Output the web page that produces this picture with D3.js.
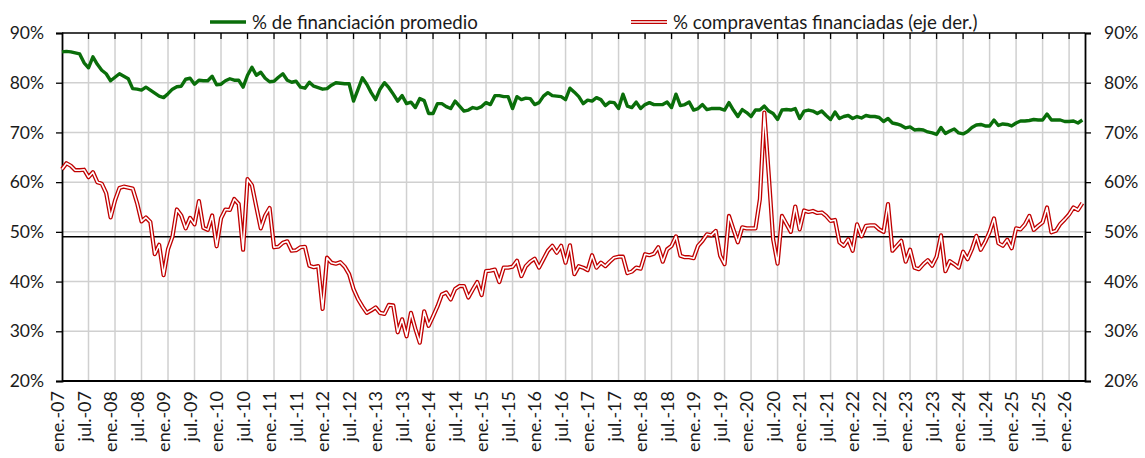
<!DOCTYPE html>
<html><head><meta charset="utf-8">
<script src="https://cdn.jsdelivr.net/npm/d3@7"></script>
<style>
body{margin:0;background:#fff;}
text{font-family:Lato,"Open Sans",sans-serif;fill:#1a1a1a;}
</style>
</head><body>
<svg id="chart" width="1145" height="458"></svg>
<script>
// ---- data (monthly, ene.-07 .. abr.-26) ----
const seriesNames = ["% de financiación promedio", "% compraventas financiadas (eje der.)"];
const tickLabels = [
 "ene.-07","jul.-07","ene.-08","jul.-08","ene.-09","jul.-09","ene.-10","jul.-10",
 "ene.-11","jul.-11","ene.-12","jul.-12","ene.-13","jul.-13","ene.-14","jul.-14",
 "ene.-15","jul.-15","ene.-16","jul.-16","ene.-17","jul.-17","ene.-18","jul.-18",
 "ene.-19","jul.-19","ene.-20","jul.-20","ene.-21","jul.-21","ene.-22","jul.-22",
 "ene.-23","jul.-23","ene.-24","jul.-24","ene.-25","jul.-25","ene.-26"];
const yTicks = [20,30,40,50,60,70,80,90];
const financiacion = [
 86.2,86.3,86.2,86.0,85.8,84.0,83.0,85.2,83.7,82.5,
 81.8,80.4,81.1,81.8,81.3,80.8,78.8,78.7,78.5,79.1,
 78.5,77.9,77.3,77.0,77.8,78.7,79.2,79.3,80.7,80.9,
 79.7,80.5,80.4,80.4,81.3,79.6,79.7,80.4,80.8,80.5,
 80.5,79.1,81.5,83.1,81.5,82.1,80.9,80.2,80.3,81.1,
 81.8,80.5,80.1,80.3,79.1,78.9,80.1,
 79.3,79.0,78.7,78.8,79.5,80.0,79.9,79.8,79.8,76.3,
 78.6,81.0,79.7,78.0,76.6,78.7,80.0,79.0,77.7,76.3,
 77.4,75.8,76.1,75.0,76.8,76.4,73.8,73.8,75.8,75.8,
 75.2,74.8,76.3,75.3,74.3,74.5,75.0,74.8,75.2,76.0,
 75.6,77.4,77.4,77.2,77.2,74.8,77.2,76.6,76.9,76.8,
 75.6,76.0,77.3,78.0,77.4,77.3,77.2,76.6,78.9,
 78.1,77.2,75.8,76.5,76.3,77.0,76.6,75.4,76.1,76.0,
 74.8,77.7,75.3,75.0,76.1,74.8,75.6,76.0,75.6,75.6,
 75.6,76.1,75.0,77.7,75.4,75.6,76.1,74.5,74.8,75.6,
 74.6,74.8,74.8,74.8,74.5,76.0,74.5,73.2,74.6,74.0,
 73.2,74.5,74.5,75.3,74.3,73.8,72.6,74.5,74.6,74.5,
 74.8,72.8,74.3,74.5,74.3,73.8,74.3,
 73.4,72.6,74.1,72.8,73.2,73.4,72.8,73.2,72.9,73.4,
 73.2,73.2,73.0,72.2,72.8,71.9,71.7,71.4,70.9,71.1,
 70.5,70.6,70.5,70.1,69.9,69.6,71.0,69.8,70.3,70.7,
 69.9,69.7,70.2,71.0,71.5,71.6,71.3,71.3,72.5,71.4,
 71.7,71.6,71.3,71.9,72.3,72.3,72.4,72.6,72.5,72.5,
 73.7,72.5,72.5,72.5,72.2,72.2,72.3,71.9,72.5];
const compraventas = [
 62.6,63.8,63.3,62.4,62.4,62.5,61.0,62.0,60.0,59.7,
 57.8,52.9,56.3,58.8,59.1,58.9,58.7,55.8,52.1,52.9,
 52.0,45.5,47.4,41.3,46.5,49.0,54.5,53.3,50.7,52.8,
 51.5,56.2,50.8,50.4,53.3,47.1,52.7,54.5,54.4,56.6,
 55.6,46.4,60.6,59.4,55.0,50.7,53.3,54.8,46.9,47.0,
 47.8,48.1,46.2,46.3,46.9,47.0,
 43.2,42.9,43.1,34.5,44.8,43.8,43.6,43.9,43.0,41.5,
 38.5,36.5,35.0,33.7,34.2,34.8,33.7,33.5,35.3,35.2,
 29.8,32.4,29.0,33.7,30.5,27.7,34.0,31.1,33.0,35.0,
 37.4,37.8,36.4,38.5,39.1,39.1,36.8,38.4,39.9,37.3,
 42.1,42.2,42.4,39.9,42.8,42.8,43.0,44.2,41.1,43.1,
 44.0,44.6,42.8,44.5,46.2,47.2,45.8,47.2,43.8,47.3,
 41.5,43.1,42.8,42.3,45.3,42.8,43.8,43.1,44.0,44.8,
 45.0,45.0,41.7,42.0,42.8,42.6,45.5,45.3,45.6,46.9,
 44.0,46.5,47.2,49.1,45.2,44.9,44.9,44.7,47.2,48.2,
 49.5,49.3,50.2,45.2,43.5,53.2,50.5,47.9,50.9,50.7,
 50.7,50.7,56.6,74.0,61.5,48.5,43.6,
 53.2,51.6,50.0,55.1,50.5,54.3,54.0,54.2,53.8,53.9,
 53.2,52.2,52.4,47.9,47.2,48.5,46.2,51.5,49.1,51.2,
 51.3,51.3,50.5,50.0,55.6,46.2,47.2,48.2,44.0,46.4,
 42.8,42.5,43.5,44.3,43.2,45.0,49.3,42.1,44.1,43.5,
 42.8,46.0,44.5,46.5,49.2,46.4,48.0,50.0,52.7,47.7,
 47.2,48.4,46.7,50.7,50.5,51.5,53.2,50.4,51.2,51.9,
 54.9,49.9,50.2,51.6,52.5,53.5,54.9,54.4,55.8];
const referenceLevel = 49;

// ---- layout ----
const svg = d3.select("#chart");
const L = 62, R = 1085, T = 33, B = 381;
const nMonths = financiacion.length;
const x = d3.scaleLinear().domain([0, 231.6]).range([L, R]);
const y = d3.scaleLinear().domain([20, 90]).range([B, T]);
const gridMonths = d3.range(6, nMonths, 6);
const labelMonths = tickLabels.map((d, i) => i * 6);
const GREEN = "#0a6e0a", RED = "#c00000";

// gridlines
const g = svg.append("g");
g.selectAll(".hg").data(yTicks.filter(v => v > 20 && v < 90)).join("line")
  .attr("x1", L).attr("x2", R).attr("y1", d => y(d)).attr("y2", d => y(d))
  .attr("stroke", "#d0d0d0").attr("stroke-width", 1.5);
g.selectAll(".vg").data(gridMonths).join("line")
  .attr("x1", d => x(d)).attr("x2", d => x(d)).attr("y1", T).attr("y2", B)
  .attr("stroke", "#d0d0d0").attr("stroke-width", 1.5);

// top line with ticks
g.append("line").attr("x1", L).attr("x2", R).attr("y1", T).attr("y2", T).attr("stroke", "#000").attr("stroke-width", 1.3);
g.selectAll(".tt").data(gridMonths).join("line")
  .attr("x1", d => x(d)).attr("x2", d => x(d)).attr("y1", T).attr("y2", T + 6)
  .attr("stroke", "#000").attr("stroke-width", 1.3);

// axes
const yLeft = d3.axisLeft(y).tickValues(yTicks).tickFormat(d => d + "%").tickSize(6).tickPadding(12);
const yRight = d3.axisRight(y).tickValues(yTicks).tickFormat(d => d + "%").tickSize(6).tickPadding(13);
const gl = svg.append("g").attr("transform", `translate(${L},0)`).call(yLeft);
const gr = svg.append("g").attr("transform", `translate(${R},0)`).call(yRight);
[gl, gr].forEach(a => {
  a.select(".domain").attr("stroke", "#000").attr("stroke-width", 1.8);
  a.selectAll(".tick line").attr("stroke", "#000").attr("stroke-width", 1.3);
  a.selectAll("text").attr("font-size", 17.5).attr("font-family", "Lato").attr("fill", "#1a1a1a");
});
svg.append("line").attr("x1", L).attr("x2", R).attr("y1", B).attr("y2", B).attr("stroke", "#000").attr("stroke-width", 1.8);

// x labels
svg.selectAll(".xl").data(tickLabels).join("text")
  .attr("transform", (d, i) => `translate(${x(labelMonths[i]) + 2},${B + 10}) rotate(-90)`)
  .attr("text-anchor", "end").attr("font-size", 18).text(d => d);

// reference line
svg.append("line").attr("x1", L).attr("x2", R - 2).attr("y1", y(referenceLevel)).attr("y2", y(referenceLevel))
  .attr("stroke", "#000").attr("stroke-width", 1.5);

// series
const line = d3.line().x((d, i) => x(i)).y(d => y(d));
svg.append("path").datum(compraventas).attr("d", line).attr("fill", "none")
  .attr("stroke", RED).attr("stroke-width", 4.2).attr("stroke-linejoin", "round");
svg.append("path").datum(compraventas).attr("d", line).attr("fill", "none")
  .attr("stroke", "#fff").attr("stroke-width", 1.6).attr("stroke-linejoin", "round");
svg.append("path").datum(financiacion).attr("d", line).attr("fill", "none")
  .attr("stroke", GREEN).attr("stroke-width", 3.4).attr("stroke-linejoin", "round");

// legend
const lg = svg.append("g");
lg.append("line").attr("x1", 210).attr("x2", 246).attr("y1", 22).attr("y2", 22).attr("stroke", GREEN).attr("stroke-width", 3.4);
lg.append("text").attr("x", 252).attr("y", 28.5).attr("font-size", 18.7).text(seriesNames[0]);
lg.append("line").attr("x1", 631).attr("x2", 667).attr("y1", 22).attr("y2", 22).attr("stroke", RED).attr("stroke-width", 4.2);
lg.append("line").attr("x1", 631).attr("x2", 667).attr("y1", 22).attr("y2", 22).attr("stroke", "#fff").attr("stroke-width", 1.6);
lg.append("text").attr("x", 673).attr("y", 28.5).attr("font-size", 18.7).text(seriesNames[1]);
</script>
</body></html>
